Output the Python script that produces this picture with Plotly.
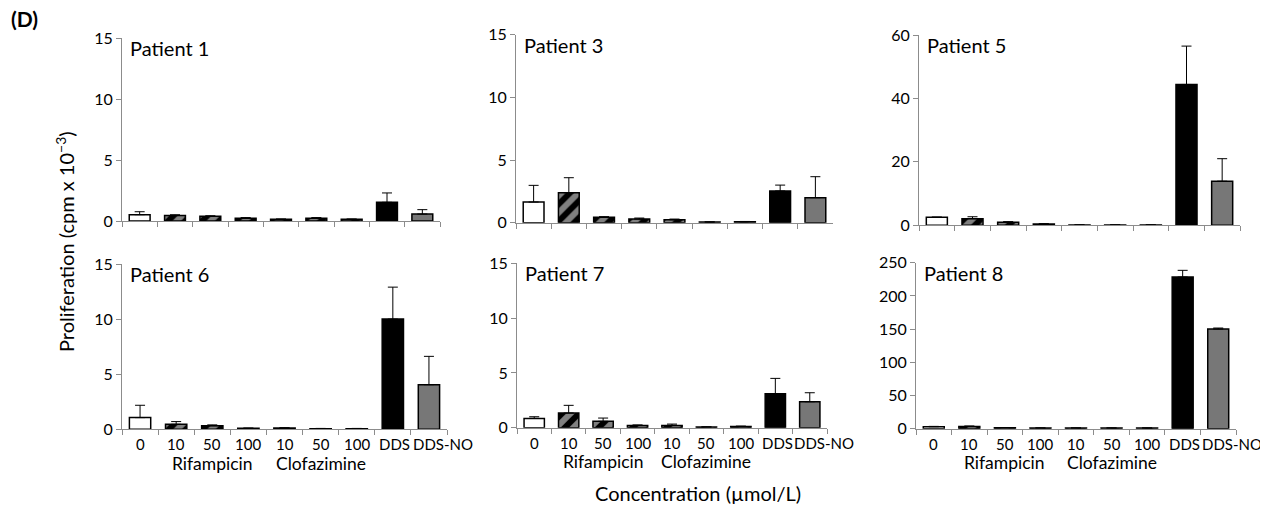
import plotly.graph_objects as go

# ---------------- data ----------------
categories = ["Control 0", "Rifampicin 10", "Rifampicin 50", "Rifampicin 100",
              "Clofazimine 10", "Clofazimine 50", "Clofazimine 100", "DDS", "DDS-NO"]
tick_labels = ["0", "10", "50", "100", "10", "50", "100", "DDS", "DDS-NO"]
group_labels = ["Rifampicin", "Clofazimine"]
group_label_positions = [2, 5]   # category index under which each drug name is centred

patient_names = ["Patient 1", "Patient 3", "Patient 5", "Patient 6", "Patient 7", "Patient 8"]

p1_values = [0.52, 0.46, 0.38, 0.22, 0.14, 0.22, 0.14, 1.53, 0.57]
p1_errors = [0.24, 0.05, 0.05, 0.06, 0.02, 0.06, 0.02, 0.77, 0.36]
p3_values = [1.65, 2.39, 0.43, 0.29, 0.24, 0.05, 0.08, 2.53, 2.00]
p3_errors = [1.33, 1.20, 0.05, 0.08, 0.05, 0.02, 0.02, 0.47, 1.67]
p5_values = [2.5, 2.1, 0.95, 0.4, 0.1, 0.1, 0.1, 44.4, 13.9]
p5_errors = [0.1, 0.6, 0.2, 0.1, 0.05, 0.05, 0.05, 12.1, 7.1]
p6_values = [1.06, 0.45, 0.33, 0.09, 0.12, 0.06, 0.06, 10.0, 4.05]
p6_errors = [1.12, 0.25, 0.07, 0.02, 0.02, 0.02, 0.02, 2.9, 2.57]
p7_values = [0.85, 1.34, 0.58, 0.21, 0.21, 0.06, 0.12, 3.1, 2.37]
p7_errors = [0.15, 0.70, 0.30, 0.04, 0.12, 0.02, 0.02, 1.4, 0.82]
p8_values = [3.0, 3.5, 1.5, 1.0, 1.0, 1.0, 1.0, 228.4, 150.1]
p8_errors = [0.5, 0.5, 0.3, 0.2, 0.2, 0.2, 0.2, 10.1, 1.5]

y_max = [15, 15, 60, 15, 15, 250]
y_dtick = [5, 5, 20, 5, 5, 50]

all_values = [p1_values, p3_values, p5_values, p6_values, p7_values, p8_values]
all_errors = [p1_errors, p3_errors, p5_errors, p6_errors, p7_errors, p8_errors]

# ---------------- layout geometry (pixels of the final screenshot) ----------------
W, H = 1268, 506
OX, OY = 8, 8          # page body margin offsets the figure by 8 px
# (x_left, x_right, y_top, y_bottom) in screenshot pixels
boxes = [
    (122, 440, 38.0, 221.0),
    (516, 833, 34.7, 222.7),
    (919, 1240, 35.0, 225.3),
    (122, 447, 264.0, 429.3),
    (517, 827, 263.3, 427.7),
    (916, 1236, 262.7, 428.7),
]
label_shift = [0, 0, 0, 0, 0, 0, 0, 2, 14]   # Excel nudges DDS-NO right to avoid overlap


def px(x):
    return (x - OX) / W


def py(y):
    return 1 - (y - OY) / H


FONT = "Lato"
bar_colors = ["white", "black", "black", "black", "black", "black", "black", "black", "#777777"]
bar_patterns = ["", "/", "/", "/", "/", "/", "/", "", ""]

fig = go.Figure()
layout = dict(
    width=W, height=H,
    margin=dict(l=0, r=0, t=0, b=0, autoexpand=False),
    paper_bgcolor="white", plot_bgcolor="white",
    showlegend=False,
    bargap=0.41,
    font=dict(family=FONT, color="black"),
)
annotations = []

for i in range(6):
    xl, xr, yt, yb = boxes[i]
    xa = "xaxis" if i == 0 else f"xaxis{i+1}"
    ya = "yaxis" if i == 0 else f"yaxis{i+1}"
    xref = "x" if i == 0 else f"x{i+1}"
    yref = "y" if i == 0 else f"y{i+1}"
    fig.add_trace(go.Bar(
        x=categories, y=all_values[i], xaxis=xref, yaxis=yref,
        marker=dict(color=bar_colors,
                    line=dict(color="black", width=1.5),
                    pattern=dict(shape=bar_patterns, bgcolor="white",
                                 size=12, solidity=0.5)),
        error_y=dict(type="data", symmetric=False, array=all_errors[i],
                     arrayminus=[0] * 9, color="black", thickness=1, width=5),
    ))
    bottom_row = i >= 3
    layout[xa] = dict(
        domain=[px(xl), px(xr)], anchor=yref, automargin=False,
        type="category", categoryorder="array", categoryarray=categories,
        range=[-0.5, 8.5],
        showticklabels=False, tickson="boundaries",
        ticks="outside", ticklen=5, tickcolor="#8c8c8c",
        showline=True, linecolor="#8c8c8c", linewidth=1,
        showgrid=False, zeroline=False,
    )
    layout[ya] = dict(
        domain=[py(yb), py(yt)], anchor=xref, automargin=False,
        range=[0, y_max[i]], tickmode="linear", tick0=0, dtick=y_dtick[i],
        ticks="outside", ticklen=5, tickcolor="#8c8c8c",
        showline=True, linecolor="#8c8c8c", linewidth=1,
        showgrid=False, zeroline=False,
        tickfont=dict(family=FONT, size=16, color="black"),
    )
    annotations.append(dict(
        text=patient_names[i], xref="paper", yref="paper",
        x=px(xl + 6), y=py(yt + 10), xanchor="left", yanchor="middle",
        showarrow=False, font=dict(family=FONT, size=20, color="black"),
    ))
    if bottom_row:
        for k, lab in enumerate(tick_labels):
            annotations.append(dict(
                text=lab, xref=xref, yref="paper", x=k, xshift=label_shift[k],
                y=py(yb + 15), xanchor="center", yanchor="middle",
                showarrow=False, font=dict(family=FONT, size=15, color="black"),
            ))
        for g, pos in zip(group_labels, group_label_positions):
            annotations.append(dict(
                text=g, xref=xref, yref="paper", x=pos,
                y=py(yb + 34), xanchor="center", yanchor="middle",
                showarrow=False, font=dict(family=FONT, size=17.5, color="black"),
            ))

annotations.append(dict(
    text="<b>(D)</b>", xref="paper", yref="paper", x=px(9), y=py(19),
    xanchor="left", yanchor="middle", showarrow=False,
    font=dict(family=FONT, size=21, color="black"),
))
annotations.append(dict(
    text="Proliferation (cpm x 10<sup>−3</sup>)", xref="paper", yref="paper",
    x=px(65), y=py(242), xanchor="center", yanchor="middle", textangle=-90,
    showarrow=False, font=dict(family=FONT, size=20, color="black"),
))
annotations.append(dict(
    text="Concentration (µmol/L)", xref="paper", yref="paper",
    x=px(698), y=py(493), xanchor="center", yanchor="middle",
    showarrow=False, font=dict(family=FONT, size=20, color="black"),
))

layout["annotations"] = annotations
fig.update_layout(**layout)
fig.write_html("out.html")
